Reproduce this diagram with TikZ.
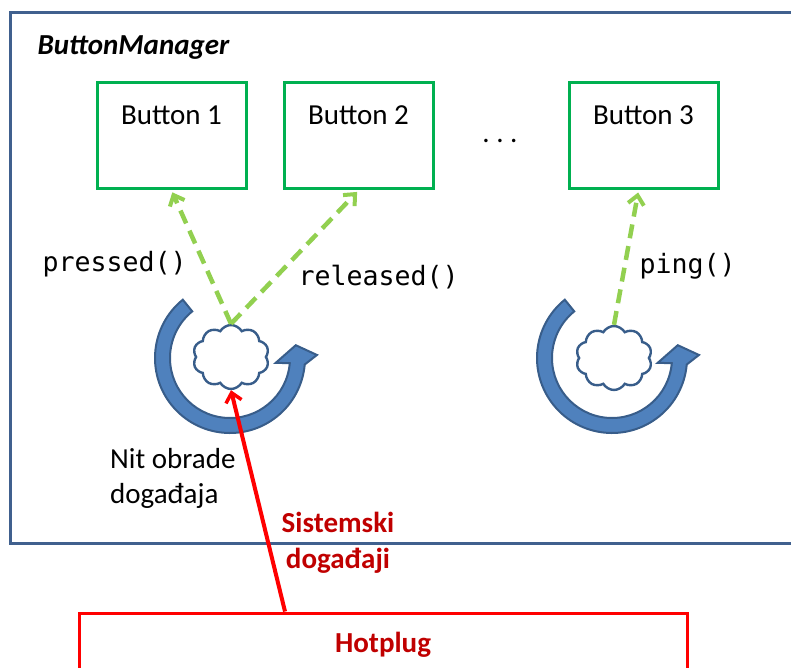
\documentclass[tikz,border=0pt]{standalone}
\usepackage{fontspec}
\setmainfont{Carlito}
\setmonofont{DejaVu Sans Mono}
\usetikzlibrary{shapes.symbols,arrows.meta,calc}

\definecolor{frameblue}{RGB}{64,96,142}
\definecolor{btngreen}{RGB}{0,176,80}
\definecolor{callgreen}{RGB}{146,208,80}
\definecolor{ringfill}{RGB}{79,129,189}
\definecolor{ringline}{RGB}{56,93,138}
\definecolor{hotred}{RGB}{255,0,0}
\definecolor{darkred}{RGB}{192,0,0}

\tikzset{
  textfont/.style={font=\fontsize{29}{35}\selectfont},
  codefont/.style={font=\ttfamily\fontsize{26.6}{32}\selectfont},
  buttonbox/.style={draw=btngreen, line width=3pt, minimum width=149pt,
    minimum height=106pt, inner sep=0pt, textfont,
    text height=20pt, text depth=42pt},
  eventcloud/.style={cloud, cloud puffs=10, cloud puff arc=120, aspect=1.2,
    draw=ringline, line width=2.4pt, fill=white, inner sep=0pt,
    minimum width=76pt, minimum height=64pt},
  callarrow/.style={draw=callgreen, line width=4.5pt, dash pattern=on 14pt off 8pt,
    -{Straight Barb[length=9pt,width=16pt,line width=4pt]}, shorten >=2pt},
  eventarrow/.style={draw=hotred, line width=4pt,
    -{Straight Barb[length=9pt,width=16pt,line width=3.5pt]}},
  ring/.style={fill=ringfill, draw=ringline, line width=2pt, line join=miter},
}

% circular "thread" arrow around a centre point
\newcommand{\threadring}[1]{%
  \path[ring] ($(#1)+(-129:75)$) arc[start angle=-129, end angle=-355, radius=75]
    -- ($(#1)+(-2:87)$) -- ($(#1)+(-11:67)$) -- ($(#1)+(6:46)$)
    -- ($(#1)+(5:60)$) arc[start angle=-355, end angle=-129, radius=60] -- cycle;}

\begin{document}
\begin{tikzpicture}[x=1pt,y=-1pt]
\useasboundingbox (0,0) rectangle (791,668);

% ButtonManager frame
\draw[frameblue, line width=3pt] (800,13) -- (10,13) -- (10,543) -- (800,543);
\node[anchor=base west, font=\bfseries\itshape\fontsize{29}{34}\selectfont] (title) at (34,55) {ButtonManager};

% buttons
\node[buttonbox] (b1) at (171.5,136) {Button 1};
\node[buttonbox] (b2) at (358.5,136) {Button 2};
\node[buttonbox] (b3) at (643.5,136) {Button 3};
\node[textfont, anchor=base] (dots) at (500,143) {.\ .\ .};

% event-processing threads
\coordinate (r1) at (230,358);
\coordinate (r2) at (612,358);
\threadring{r1}
\threadring{r2}
\node[eventcloud] (c1) at (231,357) {};
\node[eventcloud] (c2) at (614,358) {};

% callbacks
\draw[callarrow] (c1.north) -- (b1.south);
\draw[callarrow] (c1.north) -- (b2.south);
\draw[callarrow] (c2.north) -- ($(b3.south)+(-5,0)$);
\node[codefont, anchor=base west] (lpressed) at (39,271) {pressed()};
\node[codefont, anchor=base west] (lreleased) at (295,285) {released()};
\node[codefont, anchor=base west] (lping) at (636,273) {ping()};

\node[textfont, anchor=base west, align=left, inner sep=0pt] (lthread) at (110,503) {Nit obrade\\događaja};

% Hotplug source of system events
\node[draw=hotred, line width=3pt, minimum width=608pt, minimum height=87pt,
  inner sep=0pt, text=darkred, font=\bfseries\fontsize{29}{34}\selectfont,
  text height=20pt, text depth=29pt] (hp) at (383,656.5) {Hotplug};
\coordinate (hpout) at ($(hp.north)+(-98,0)$);
\draw[eventarrow] (hpout) -- (c1.south);
\node[text=darkred, font=\bfseries\fontsize{29}{36}\selectfont, align=center,
  anchor=base, inner sep=0pt] (levents) at (338,568) {Sistemski\\događaji};

\end{tikzpicture}
\end{document}
